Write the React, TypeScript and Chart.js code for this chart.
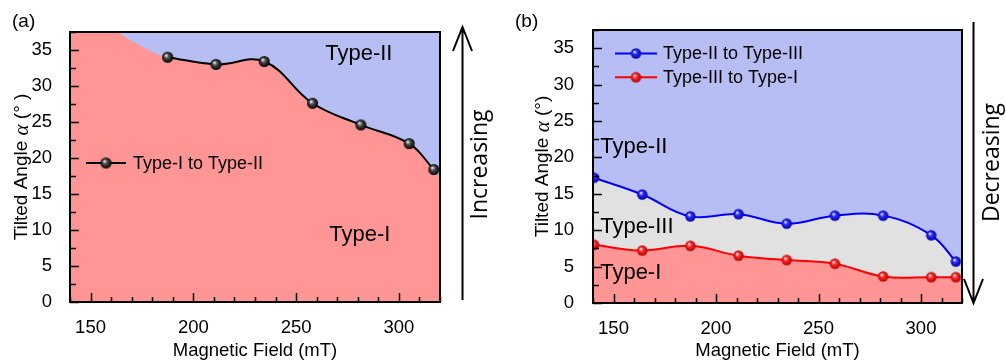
import { useEffect, useRef } from 'react';
import { Chart, registerables } from 'chart.js';

Chart.register(...registerables);

// ---------- shared axis ranges / ticks ----------
const FIELD_MIN = 140;
const FIELD_MAX = 320;
const ANGLE_MIN = 0;
const ANGLE_MAX = 37.5;
const fieldTicks = [150, 200, 250, 300];
const angleTicks = [0, 5, 10, 15, 20, 25, 30, 35];
const fieldMinorStep = 10;
const angleMinorStep = 2.5;

// ---------- panel (a) data ----------
const fieldA = [187.5, 211, 234.5, 258, 281.5, 305, 317];
const angleA = [34.0, 33.0, 33.4, 27.6, 24.6, 22.0, 18.4];
// phase boundary drawn beyond the measured points (filled region only)
const boundaryLeadFieldA = [140, 152, 164, 179];
const boundaryLeadAngleA = [47, 41.5, 37.5, 34.9];
const boundaryTailFieldA = [320];
const boundaryTailAngleA = [17.4];

// ---------- panel (b) data ----------
const fieldB = [140.5, 164, 187.5, 211, 234.5, 258, 281.5, 305, 317];
const angleIItoIII = [17.2, 14.9, 11.9, 12.2, 10.9, 12.0, 12.0, 9.3, 5.7];
const angleIIItoI = [8.0, 7.2, 7.85, 6.5, 5.9, 5.4, 3.65, 3.55, 3.55];

// ---------- styles ----------
const PINK = '#FF9595';
const BLUE = '#B6BEF3';
const GRAY = '#E1E1E1';
const SANS = '"Liberation Sans", Arial, sans-serif';
const SERIF = '"Liberation Serif", "Times New Roman", serif';
const OPEN = '"Open Sans", sans-serif';

type Pt = { x: number; y: number };
const pts = (xs: number[], ys: number[]): Pt[] => xs.map((x, i) => ({ x, y: ys[i] }));
const extend = (xs: number[], ys: number[]): Pt[] => [
  { x: FIELD_MIN, y: ys[0] },
  ...pts(xs, ys),
  { x: FIELD_MAX, y: ys[ys.length - 1] },
];

function makeSphere(radius: number, light: string, mid: string, dark: string) {
  const size = Math.ceil(radius * 2) + 2;
  const c = document.createElement('canvas');
  c.width = size;
  c.height = size;
  const ctx = c.getContext('2d')!;
  const cx = size / 2;
  const cy = size / 2;
  const g = ctx.createRadialGradient(cx - radius * 0.3, cy - radius * 0.35, radius * 0.05, cx, cy, radius);
  g.addColorStop(0, light);
  g.addColorStop(0.4, mid);
  g.addColorStop(1, dark);
  ctx.fillStyle = g;
  ctx.beginPath();
  ctx.arc(cx, cy, radius, 0, Math.PI * 2);
  ctx.fill();
  return c;
}

type RegionLabel = { text: string; x: number; y: number; align: CanvasTextAlign };
type LegendItem = { text: string; color: string; sphere: HTMLCanvasElement; y: number };
type Decor = {
  panelLabel: string;
  panelLabelX: number;
  yTitleX: number;
  yTitleSuffix: string;
  regions: RegionLabel[];
  legend: { x0: number; x1: number; mx: number; tx: number; items: LegendItem[] };
  arrow: { x: number; tail: number; tip: number; text: string; tx: number; ty: number };
};

function decorPlugin(d: Decor) {
  return {
    id: 'decor',
    beforeDraw(chart: any) {
      const { ctx, chartArea: a } = chart;
      ctx.save();
      ctx.fillStyle = BLUE;
      ctx.fillRect(a.left, a.top, a.right - a.left, a.bottom - a.top);
      ctx.restore();
    },
    afterDatasetsDraw(chart: any) {
      const { ctx, chartArea: a } = chart;
      const xs = chart.scales.x;
      const ys = chart.scales.y;
      ctx.save();
      // region labels
      ctx.fillStyle = '#000';
      ctx.font = `22px ${SANS}`;
      ctx.textBaseline = 'middle';
      for (const r of d.regions) {
        ctx.textAlign = r.align;
        ctx.fillText(r.text, xs.getPixelForValue(r.x), ys.getPixelForValue(r.y));
      }
      // inward ticks
      ctx.strokeStyle = '#000';
      ctx.lineWidth = 1.5;
      ctx.beginPath();
      for (let v = FIELD_MIN; v <= FIELD_MAX + 1e-6; v += fieldMinorStep) {
        const px = Math.round(xs.getPixelForValue(v)) + 0.5;
        const len = fieldTicks.includes(v) ? 9 : 5;
        ctx.moveTo(px, a.bottom);
        ctx.lineTo(px, a.bottom - len);
      }
      for (let v = ANGLE_MIN; v <= ANGLE_MAX + 1e-6; v += angleMinorStep) {
        const py = Math.round(ys.getPixelForValue(v)) + 0.5;
        const len = angleTicks.includes(v) ? 9 : 6;
        ctx.moveTo(a.left, py);
        ctx.lineTo(a.left + len, py);
      }
      ctx.stroke();
      // frame
      ctx.lineWidth = 2;
      ctx.strokeRect(a.left, a.top, a.right - a.left, a.bottom - a.top);
      // legend
      ctx.font = `18px ${SANS}`;
      ctx.textAlign = 'left';
      ctx.textBaseline = 'middle';
      for (const it of d.legend.items) {
        ctx.strokeStyle = it.color;
        ctx.lineWidth = 2;
        ctx.beginPath();
        ctx.moveTo(d.legend.x0, it.y);
        ctx.lineTo(d.legend.x1, it.y);
        ctx.stroke();
        ctx.drawImage(it.sphere, d.legend.mx - it.sphere.width / 2, it.y - it.sphere.height / 2);
        ctx.fillStyle = '#000';
        ctx.fillText(it.text, d.legend.tx, it.y + 1);
      }
      ctx.restore();
    },
    afterDraw(chart: any) {
      const { ctx, chartArea: a } = chart;
      ctx.save();
      ctx.fillStyle = '#000';
      ctx.strokeStyle = '#000';
      // panel label
      ctx.font = `19px ${SANS}`;
      ctx.textAlign = 'left';
      ctx.textBaseline = 'middle';
      ctx.fillText(d.panelLabel, d.panelLabelX, 22);
      // x title
      ctx.font = `18.5px ${SANS}`;
      ctx.textAlign = 'center';
      ctx.fillText('Magnetic Field (mT)', (a.left + a.right) / 2, 351);
      // y title (rich text)
      const segs = [
        { t: 'Tilted Angle ', f: `19px ${SANS}` },
        { t: 'α', f: `italic 21px ${SERIF}` },
        { t: d.yTitleSuffix, f: `19px ${SANS}` },
      ];
      let total = 0;
      const widths = segs.map((s) => {
        ctx.font = s.f;
        const w = ctx.measureText(s.t).width;
        total += w;
        return w;
      });
      ctx.translate(d.yTitleX, (a.top + a.bottom) / 2);
      ctx.rotate(-Math.PI / 2);
      ctx.textAlign = 'left';
      let x = -total / 2;
      segs.forEach((s, i) => {
        ctx.font = s.f;
        ctx.fillText(s.t, x, 0);
        x += widths[i];
      });
      ctx.setTransform(1, 0, 0, 1, 0, 0);
      // arrow
      const ar = d.arrow;
      const dir = ar.tip < ar.tail ? 1 : -1;
      ctx.lineWidth = 2;
      ctx.beginPath();
      ctx.moveTo(ar.x, ar.tail);
      ctx.lineTo(ar.x, ar.tip);
      ctx.moveTo(ar.x - 9.5, ar.tip + dir * 24);
      ctx.lineTo(ar.x, ar.tip);
      ctx.lineTo(ar.x + 9.5, ar.tip + dir * 24);
      ctx.stroke();
      ctx.translate(ar.tx, ar.ty);
      ctx.rotate(-Math.PI / 2);
      ctx.font = `23px ${OPEN}`;
      ctx.textAlign = 'center';
      ctx.textBaseline = 'middle';
      ctx.fillText(ar.text, 0, 0);
      ctx.restore();
    },
  };
}

function baseOptions(padding: any, yWidth: number, xHeight: number, yPad: number) {
  return {
    animation: false as const,
    responsive: false,
    devicePixelRatio: 1,
    events: [] as any[],
    layout: { padding },
    plugins: {
      legend: { display: false },
      tooltip: { enabled: false },
      filler: { propagate: false },
    },
    scales: {
      x: {
        type: 'linear' as const,
        min: FIELD_MIN,
        max: FIELD_MAX,
        afterBuildTicks: (s: any) => {
          s.ticks = fieldTicks.map((v) => ({ value: v }));
        },
        afterFit: (s: any) => {
          s.height = xHeight;
        },
        grid: { display: false },
        border: { display: false },
        ticks: { color: '#000', font: { family: SANS, size: 18.5 }, padding: 7, autoSkip: false, maxRotation: 0 },
      },
      y: {
        type: 'linear' as const,
        min: ANGLE_MIN,
        max: ANGLE_MAX,
        afterBuildTicks: (s: any) => {
          s.ticks = angleTicks.map((v) => ({ value: v }));
        },
        afterFit: (s: any) => {
          s.width = yWidth;
        },
        grid: { display: false },
        border: { display: false },
        ticks: { color: '#000', font: { family: SANS, size: 18.5 }, padding: yPad, autoSkip: false },
      },
    },
  };
}

function PanelA() {
  const ref = useRef<HTMLCanvasElement>(null);
  useEffect(() => {
    const sphere = makeSphere(5.5, '#f4f4f4', '#4a4a4a', '#000000');
    const fill = [
      ...pts(boundaryLeadFieldA, boundaryLeadAngleA),
      ...pts(fieldA, angleA),
      ...pts(boundaryTailFieldA, boundaryTailAngleA),
    ];
    const decor: Decor = {
      panelLabel: '(a)',
      panelLabelX: 12,
      yTitleX: 22,
      yTitleSuffix: ' (° )',
      regions: [
        { text: 'Type-II', x: 280.5, y: 34.5, align: 'center' },
        { text: 'Type-I', x: 281, y: 9.3, align: 'center' },
      ],
      legend: {
        x0: 86,
        x1: 126,
        mx: 106,
        tx: 133,
        items: [{ text: 'Type-I to Type-II', color: '#000', sphere, y: 163 }],
      },
      arrow: { x: 462.5, tail: 300, tip: 27, text: 'Increasing', tx: 480, ty: 164.5 },
    };
    const chart = new Chart(ref.current!, {
      type: 'line',
      data: {
        datasets: [
          {
            label: 'Type-I to Type-II',
            data: pts(fieldA, angleA),
            borderColor: '#000',
            borderWidth: 2,
            tension: 0.4,
            pointStyle: sphere as any,
            pointRadius: 5.5,
            fill: false,
          },
          {
            label: 'boundary',
            data: fill,
            borderWidth: 0,
            borderColor: 'rgba(0,0,0,0)',
            pointRadius: 0,
            tension: 0.4,
            fill: 'origin',
            backgroundColor: PINK,
          },
        ],
      },
      options: baseOptions({ left: 0, top: 32, right: 63, bottom: 0 }, 70, 60, 10) as any,
      plugins: [decorPlugin(decor)],
    });
    return () => chart.destroy();
  }, []);
  return (
    <canvas
      ref={ref}
      width={503}
      height={362}
      style={{ position: 'absolute', left: 0, top: 0, width: 503, height: 362 }}
    />
  );
}

function PanelB() {
  const ref = useRef<HTMLCanvasElement>(null);
  useEffect(() => {
    const blueSphere = makeSphere(5.2, '#eef0ff', '#2a2aff', '#0000a8');
    const redSphere = makeSphere(5.2, '#ffeeee', '#ff2a2a', '#b00000');
    const decor: Decor = {
      panelLabel: '(b)',
      panelLabelX: 12,
      yTitleX: 40,
      yTitleSuffix: ' (°)',
      regions: [
        { text: 'Type-II', x: 143.5, y: 21.5, align: 'left' },
        { text: 'Type-III', x: 143.5, y: 10.45, align: 'left' },
        { text: 'Type-I', x: 143.5, y: 4.1, align: 'left' },
      ],
      legend: {
        x0: 112,
        x1: 154,
        mx: 133,
        tx: 160,
        items: [
          { text: 'Type-II to Type-III', color: '#0000ff', sphere: blueSphere, y: 53.5 },
          { text: 'Type-III to Type-I', color: '#ff0000', sphere: redSphere, y: 77.3 },
        ],
      },
      arrow: { x: 470.5, tail: 22, tip: 303, text: 'Decreasing', tx: 489, ty: 162.5 },
    };
    const chart = new Chart(ref.current!, {
      type: 'line',
      data: {
        datasets: [
          {
            label: 'Type-II to Type-III',
            data: pts(fieldB, angleIItoIII),
            borderColor: '#0000ff',
            borderWidth: 2,
            tension: 0.4,
            pointStyle: blueSphere as any,
            pointRadius: 5.2,
            fill: false,
          },
          {
            label: 'Type-III to Type-I',
            data: pts(fieldB, angleIIItoI),
            borderColor: '#ff0000',
            borderWidth: 2,
            tension: 0.4,
            pointStyle: redSphere as any,
            pointRadius: 5.2,
            fill: false,
          },
          {
            label: 'Type-III region',
            data: extend(fieldB, angleIItoIII),
            borderWidth: 0,
            borderColor: 'rgba(0,0,0,0)',
            pointRadius: 0,
            tension: 0.4,
            fill: 3,
            backgroundColor: GRAY,
          },
          {
            label: 'Type-I region',
            data: extend(fieldB, angleIIItoI),
            borderWidth: 0,
            borderColor: 'rgba(0,0,0,0)',
            pointRadius: 0,
            tension: 0.4,
            fill: 'origin',
            backgroundColor: PINK,
          },
        ],
      },
      options: baseOptions({ left: 0, top: 30, right: 44, bottom: 0 }, 90, 59, 11) as any,
      plugins: [decorPlugin(decor)],
    });
    return () => chart.destroy();
  }, []);
  return (
    <canvas
      ref={ref}
      width={503}
      height={362}
      style={{ position: 'absolute', left: 503, top: 0, width: 503, height: 362 }}
    />
  );
}

export default function App() {
  return (
    <div style={{ position: 'absolute', left: 0, top: 0, width: 1006, height: 362, background: '#fff' }}>
      <PanelA />
      <PanelB />
    </div>
  );
}
